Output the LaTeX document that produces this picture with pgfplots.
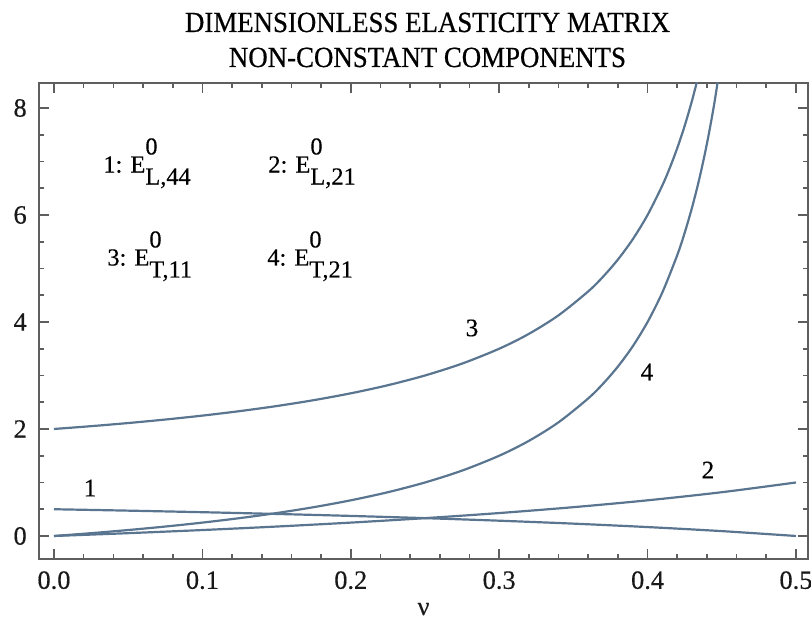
\documentclass[border=0pt]{standalone}
\usepackage{fontspec}
\setmainfont{Liberation Serif}[FakeBold=0.4]
\newfontfamily\titlefont{Liberation Serif}[FakeStretch=0.92, FakeBold=0.6]
\usepackage{pgfplots}
\pgfplotsset{compat=1.18}
\definecolor{curvecol}{HTML}{5A7590}
\definecolor{framecol}{HTML}{5E5E5E}
\begin{document}
\begin{tikzpicture}
\begin{axis}[
    name=ax,
    at={(19.5pt,33pt)}, anchor=south west,
    scale only axis,
    width=384.5pt, height=238pt,
    xmin=-0.0101, xmax=0.5081,
    ymin=-0.43, ymax=8.467,
    xtick={0,0.1,0.2,0.3,0.4,0.5},
    ytick={0,2,4,6,8},
    minor x tick num=4,
    minor y tick num=3,
    tick align=inside,
    major tick length=5pt, minor tick length=2.5pt,
    axis line style={framecol, line width=1pt},
    every tick/.style={framecol, line width=0.8pt},
    /pgf/number format/assume math mode=true,
    tick label style={font=\fontsize{13.2}{15}\selectfont, text=black!90},
    x tick label style={/pgf/number format/.cd, fixed, fixed zerofill, precision=1, /tikz/.cd, yshift=-2.6pt},
    y tick label style={xshift=-2.6pt},
    xlabel={ν},
    xlabel style={at={(axis description cs:0.5,0)}, anchor=base, yshift=-28pt, font=\fontsize{13.2}{15}\selectfont, text=black!90},
]
% 1: E_L,44
\addplot[curvecol, line width=1.1pt, smooth] coordinates {
    (0,0.5) (0.05,0.47368) (0.1,0.44444) (0.15,0.41176) (0.2,0.375)
    (0.25,0.33333) (0.3,0.28571) (0.35,0.23077) (0.4,0.16667) (0.45,0.09091) (0.5,0)
};
% 2: E_L,21
\addplot[curvecol, line width=1.1pt, smooth] coordinates {
    (0,0) (0.05,0.05263) (0.1,0.11111) (0.15,0.17647) (0.2,0.25)
    (0.25,0.33333) (0.3,0.42857) (0.35,0.53846) (0.4,0.66667) (0.45,0.81818) (0.5,1)
};
% 3: E_T,11
\addplot[curvecol, line width=1.1pt, smooth] coordinates {
    (0,2) (0.025,2.05263) (0.05,2.11111) (0.075,2.17647) (0.1,2.25)
    (0.125,2.33333) (0.15,2.42857) (0.175,2.53846) (0.2,2.66667) (0.225,2.81818)
    (0.25,3) (0.275,3.22222) (0.3,3.5) (0.32,3.77778) (0.34,4.125)
    (0.36,4.57143) (0.37,4.84615) (0.38,5.16667) (0.39,5.54545) (0.4,6)
    (0.41,6.55556) (0.415,6.88235) (0.42,7.25) (0.425,7.66667) (0.43,8.14286)
    (0.435,8.69231) (0.44,9.33333)
};
% 4: E_T,21
\addplot[curvecol, line width=1.1pt, smooth] coordinates {
    (0,0) (0.025,0.05263) (0.05,0.11111) (0.075,0.17647) (0.1,0.25)
    (0.125,0.33333) (0.15,0.42857) (0.175,0.53846) (0.2,0.66667) (0.225,0.81818)
    (0.25,1) (0.275,1.22222) (0.3,1.5) (0.32,1.77778) (0.34,2.125)
    (0.36,2.57143) (0.37,2.84615) (0.38,3.16667) (0.39,3.54545) (0.4,4)
    (0.41,4.55556) (0.42,5.25) (0.425,5.66667) (0.43,6.14286) (0.435,6.69231)
    (0.44,7.33333) (0.445,8.09091) (0.45,9)
};
% curve numbers
\node[font=\fontsize{12.6}{14}\selectfont] at (axis cs:0.0243,0.897) {1};
\node[font=\fontsize{12.6}{14}\selectfont] at (axis cs:0.4407,1.234) {2};
\node[font=\fontsize{12.6}{14}\selectfont] at (axis cs:0.2817,3.888) {3};
\node[font=\fontsize{12.6}{14}\selectfont] at (axis cs:0.3996,3.065) {4};
% key
\node[anchor=base west, inner sep=0pt, font=\fontsize{12.2}{14}\selectfont]
    at (axis cs:0.0330,6.794) {1: E\rlap{\raisebox{9pt}{0}}\raisebox{-6pt}{L,44}};
\node[anchor=base west, inner sep=0pt, font=\fontsize{12.2}{14}\selectfont]
    at (axis cs:0.1442,6.794) {2: E\rlap{\raisebox{9pt}{0}}\raisebox{-6pt}{L,21}};
\node[anchor=base west, inner sep=0pt, font=\fontsize{12.2}{14}\selectfont]
    at (axis cs:0.0357,5.056) {3: E\rlap{\raisebox{9pt}{0}}\raisebox{-6pt}{T,11}};
\node[anchor=base west, inner sep=0pt, font=\fontsize{12.2}{14}\selectfont]
    at (axis cs:0.1435,5.056) {4: E\rlap{\raisebox{9pt}{0}}\raisebox{-6pt}{T,21}};
\end{axis}
\node[anchor=base, font=\titlefont\fontsize{14.6}{16}\selectfont] at ([xshift=2pt, yshift=25.5pt]ax.north) {DIMENSIONLESS ELASTICITY MATRIX};
\node[anchor=base, font=\titlefont\fontsize{14.6}{16}\selectfont] at ([xshift=2pt, yshift=8pt]ax.north) {NON-CONSTANT COMPONENTS};
\pgfresetboundingbox
\path[use as bounding box] (0,0) rectangle (405.5pt,312.5pt);
\end{tikzpicture}
\end{document}
